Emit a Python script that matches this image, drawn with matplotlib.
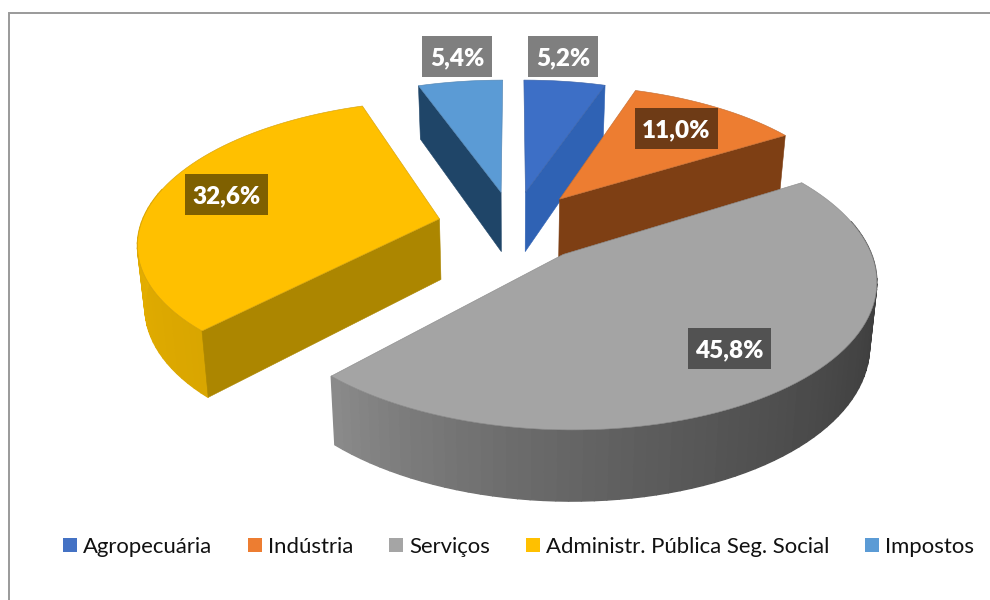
import numpy as np
import matplotlib
matplotlib.use("Agg")
import matplotlib.pyplot as plt
from matplotlib.patches import Polygon, Patch, Rectangle
from matplotlib.colors import to_rgb

# ---- data ----
categories = ["Agropecuária", "Indústria", "Serviços", "Administr. Pública Seg. Social", "Impostos"]
values = [5.2, 11.0, 45.8, 32.6, 5.4]

# ---- style ----
top_colors = ["#3D6FC6", "#ED7D31", "#A4A4A4", "#FFC000", "#5B9BD5"]
legend_colors = ["#4472C4", "#ED7D31", "#A5A5A5", "#FFC000", "#5B9BD5"]
radial_colors = ["#2F62B4", "#7E3F14", "#7A7A7A", "#AC8600", "#1F4568"]
arc_colors = [("#2F62B4", "#2F62B4"), ("#7E3F14", "#7E3F14"), ("#383838", "#8A8A8A"),
              ("#D9A600", "#F6BA00"), ("#1F4568", "#1F4568")]
arc_gamma = [1, 1, 2, 1, 1]
label_colors = ["#7F7F7F", "#6E3B16", "#525252", "#7F6000", "#7F7F7F"]
label_boxes = [(563, 56.5), (676.5, 128.5), (729, 348.5), (226.5, 194.5), (457, 56.5)]
draw_order = [4, 0, 1, 3, 2]
FONT = "Lato"

# projection parameters (pie plane -> pixels)
CX, Y0, A, B, K = 513.5, 226.1, 299.0, 139.0, 0.153
EXPLODE, DEPTH, XSHRINK = 0.255, 61.0, 0.98


def top_pt(X, Y):
    w = 1 + K * Y
    return CX + A * X / w, Y0 - B * Y / w


def bottom_pt(X, Y):
    x, y = top_pt(X, Y)
    return CX + (x - CX) * XSHRINK, y + DEPTH / (1 + 0.12 * Y)


fig = plt.figure(figsize=(9.9, 6.0), dpi=100)
ax = fig.add_axes([0, 0, 1, 1])
ax.set_xlim(0, 990)
ax.set_ylim(600, 0)
ax.axis("off")

# frame
ax.plot([8.5, 8.5, 990], [600, 12.5, 12.5], color="#9A9A9A", lw=1.4, solid_joinstyle="miter")

fractions = np.array(values) / np.sum(values)
ends = np.cumsum(fractions) * 2 * np.pi
starts = ends - fractions * 2 * np.pi

for i in draw_order:
    t0, t1 = starts[i], ends[i]
    tm = (t0 + t1) / 2
    ox, oy = EXPLODE * np.sin(tm), EXPLODE * np.cos(tm)
    th = np.linspace(t0, t1, max(8, int(np.degrees(t1 - t0) / 2)))
    Xs, Ys = ox + np.sin(th), oy + np.cos(th)

    # outer side, shaded along the arc (only the part turned to the viewer)
    c0, c1 = np.array(to_rgb(arc_colors[i][0])), np.array(to_rgb(arc_colors[i][1]))
    for j in range(len(th) - 1):
        if np.cos(th[j]) > 0.2 and np.cos(th[j + 1]) > 0.2:
            continue
        col = c0 + (c1 - c0) * (j / (len(th) - 2)) ** arc_gamma[i]
        quad = [top_pt(Xs[j], Ys[j]), top_pt(Xs[j + 1], Ys[j + 1]),
                bottom_pt(Xs[j + 1], Ys[j + 1]), bottom_pt(Xs[j], Ys[j])]
        ax.add_patch(Polygon(quad, closed=True, fc=col, ec=col, lw=1.0))

    # radial sides that face the viewer
    for k, facing in ((0, np.sin(t0) < 0), (-1, -np.sin(t1) < 0)):
        if facing:
            quad = [top_pt(ox, oy), top_pt(Xs[k], Ys[k]), bottom_pt(Xs[k], Ys[k]), bottom_pt(ox, oy)]
            ax.add_patch(Polygon(quad, closed=True, fc=radial_colors[i], ec=radial_colors[i], lw=0.4))

    # top face
    outline = [top_pt(ox, oy)] + [top_pt(a, b) for a, b in zip(Xs, Ys)]
    ax.add_patch(Polygon(outline, closed=True, fc=top_colors[i], ec=top_colors[i], lw=0.4))
    ax.add_patch(Polygon(outline, closed=True, fc="none", ec=(0.25, 0.25, 0.25, 0.2), lw=0.5))

# data labels
for i, (bx, by) in enumerate(label_boxes):
    w = 70 if values[i] < 10 else 83
    ax.add_patch(Rectangle((bx - w / 2, by - 20.5), w, 41, fc=label_colors[i], ec="none", zorder=5))
    ax.text(bx, by, f"{values[i]:.1f}%".replace(".", ","), color="white", fontsize=17.5,
            fontweight="heavy", family=FONT, ha="center", va="center_baseline", zorder=6)

# legend
handles = [Patch(fc=c, ec="none") for c in legend_colors]
ax.legend(handles, categories, loc="center", bbox_to_anchor=(518.5, 547), bbox_transform=ax.transData,
          ncol=5, frameon=False, prop={"family": FONT, "size": 15.9},
          handlelength=0.63, handleheight=0.63, handletextpad=0.27, columnspacing=1.62,
          labelcolor="#111111", borderpad=0, borderaxespad=0)

fig.savefig("out.png", dpi=100)
